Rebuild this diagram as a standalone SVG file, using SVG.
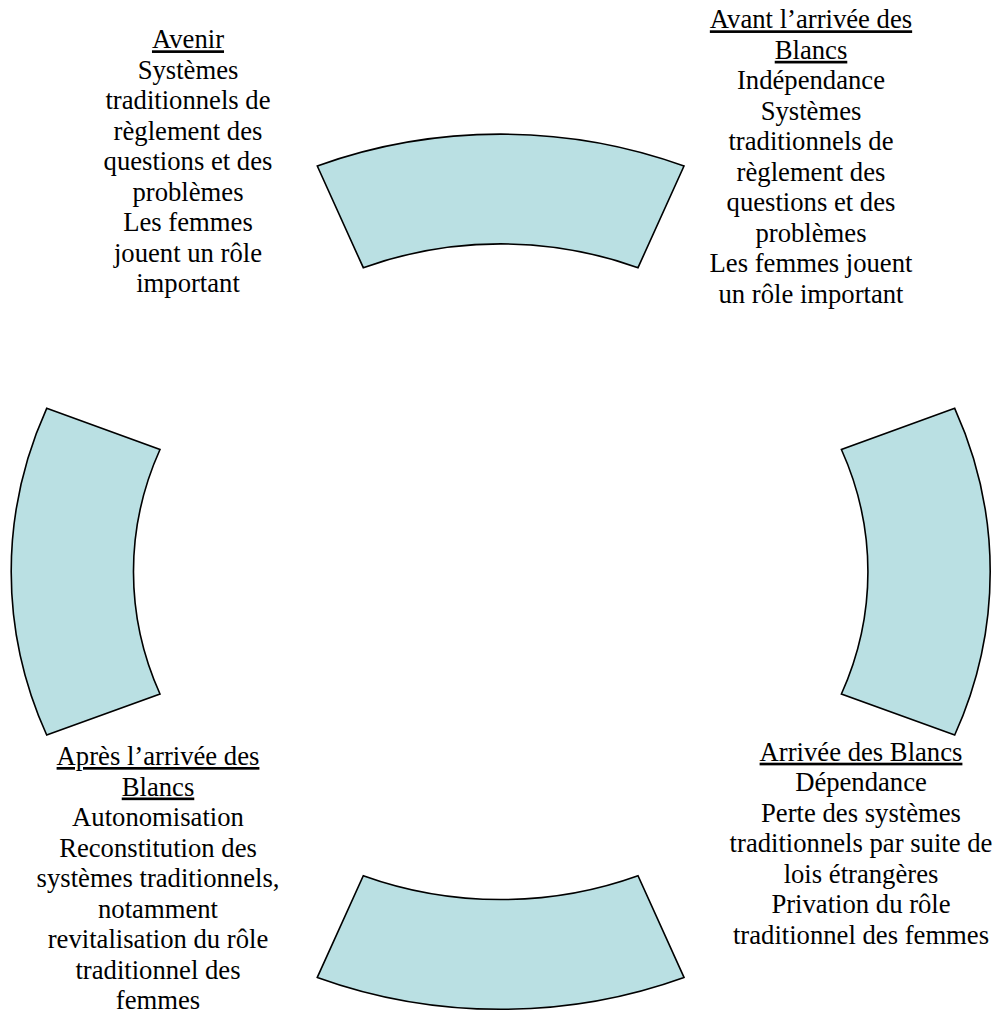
<svg xmlns="http://www.w3.org/2000/svg" width="998" height="1015" viewBox="0 0 998 1015">
<style>
.seg{fill:#BAE0E3;stroke:#000;stroke-width:1.6;stroke-linejoin:miter}
.t{font-family:"Liberation Serif","Times New Roman",serif;font-size:26.67px;fill:#000;text-anchor:middle}
.u{text-decoration:underline}
</style>
<rect width="998" height="1015" fill="#fff"/>
<g id="arc-top"><path class="seg" d="M 317.3 166 A 489 436.7 0 0 1 684 166 L 638 267.7 A 366.7 327.4 0 0 0 363.3 267.7 Z"/></g>
<g id="arc-right"><path class="seg" d="M 954.7 408.3 A 489 436.7 0 0 1 954.7 735 L 841.4 694 A 366.7 327.4 0 0 0 841.4 449.5 Z"/></g>
<g id="arc-bottom"><path class="seg" d="M 317.3 977.4 A 489 436.7 0 0 0 684 977.4 L 638 875.7 A 366.7 327.4 0 0 1 363.3 875.7 Z"/></g>
<g id="arc-left"><path class="seg" d="M 46.7 408.3 A 489 436.7 0 0 0 46.7 735 L 160 694 A 366.7 327.4 0 0 1 160 449.5 Z"/></g>
<g id="connectors"></g>
<g id="label-avenir">
<text class="t" x="188" y="48.3"><tspan class="u">Avenir</tspan></text>
<text class="t" x="188" y="78.8">Systèmes</text>
<text class="t" x="188" y="109.3">traditionnels de</text>
<text class="t" x="188" y="139.8">règlement des</text>
<text class="t" x="188" y="170.3">questions et des</text>
<text class="t" x="188" y="200.8">problèmes</text>
<text class="t" x="188" y="231.3">Les femmes</text>
<text class="t" x="188" y="261.8">jouent un rôle</text>
<text class="t" x="188" y="292.3">important</text>
</g>
<g id="label-avant">
<text class="t" x="811" y="28.3"><tspan class="u">Avant l’arrivée des</tspan></text>
<text class="t" x="811" y="58.8"><tspan class="u">Blancs</tspan></text>
<text class="t" x="811" y="89.3">Indépendance</text>
<text class="t" x="811" y="119.8">Systèmes</text>
<text class="t" x="811" y="150.3">traditionnels de</text>
<text class="t" x="811" y="180.8">règlement des</text>
<text class="t" x="811" y="211.3">questions et des</text>
<text class="t" x="811" y="241.8">problèmes</text>
<text class="t" x="811" y="272.3">Les femmes jouent</text>
<text class="t" x="811" y="302.8">un rôle important</text>
</g>
<g id="label-arrivee">
<text class="t" x="861" y="760.7"><tspan class="u">Arrivée des Blancs</tspan></text>
<text class="t" x="861" y="791.2">Dépendance</text>
<text class="t" x="861" y="821.7">Perte des systèmes</text>
<text class="t" x="861" y="852.2">traditionnels par suite de</text>
<text class="t" x="861" y="882.7">lois étrangères</text>
<text class="t" x="861" y="913.2">Privation du rôle</text>
<text class="t" x="861" y="943.7">traditionnel des femmes</text>
</g>
<g id="label-apres">
<text class="t" x="158" y="765"><tspan class="u">Après l’arrivée des</tspan></text>
<text class="t" x="158" y="795.5"><tspan class="u">Blancs</tspan></text>
<text class="t" x="158" y="826">Autonomisation</text>
<text class="t" x="158" y="856.5">Reconstitution des</text>
<text class="t" x="158" y="887">systèmes traditionnels,</text>
<text class="t" x="158" y="917.5">notamment</text>
<text class="t" x="158" y="948">revitalisation du rôle</text>
<text class="t" x="158" y="978.5">traditionnel des</text>
<text class="t" x="158" y="1009">femmes</text>
</g>
</svg>
